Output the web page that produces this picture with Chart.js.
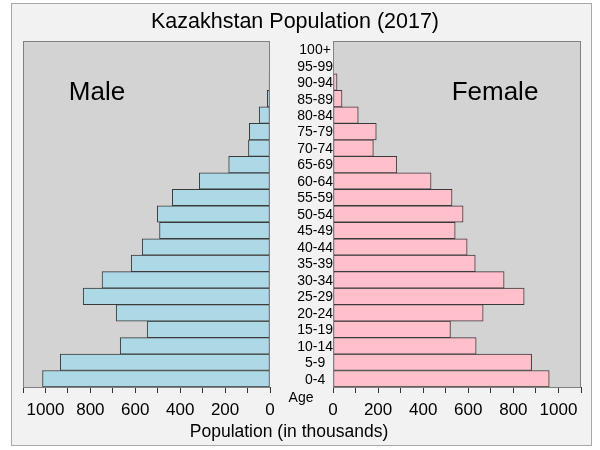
<!DOCTYPE html>
<html>
<head>
<meta charset="utf-8">
<script src="https://cdn.jsdelivr.net/npm/chart.js@4"></script>
<style>
  html, body { margin:0; padding:0; background:#ffffff; }
  #wrap { position:relative; width:600px; height:450px; overflow:hidden; font-family:"Liberation Sans", Arial, sans-serif; }
  #frame { position:absolute; left:11px; top:3px; width:581px; height:443px; background:#f2f2f2; border:1px solid #a8a8a8; box-sizing:border-box; }
  .txt { position:absolute; color:#000; white-space:nowrap; transform:translate(-50%,-50%); line-height:1; }
  canvas { position:absolute; }
</style>
</head>
<body>
<div id="wrap">
  <div id="frame"></div>
  <div id="cl" style="position:absolute;left:0;top:30px;width:280px;height:390px;"><canvas id="left"></canvas></div>
  <div id="cr" style="position:absolute;left:270px;top:30px;width:330px;height:390px;"><canvas id="right"></canvas></div>
  <div class="txt" style="left:295px;top:22px;font-size:21.5px;">Kazakhstan Population (2017)</div>
  <div class="txt" style="left:97px;top:91px;font-size:26px;">Male</div>
  <div class="txt" style="left:495px;top:91px;font-size:26px;">Female</div>
  <div class="txt" style="left:301px;top:397px;font-size:14px;">Age</div>
  <div class="txt" style="left:289px;top:432px;font-size:17.5px;">Population (in thousands)</div>
</div>
<script>
const ageGroups = ['0-4','5-9','10-14','15-19','20-24','25-29','30-34','35-39','40-44','45-49','50-54','55-59','60-64','65-69','70-74','75-79','80-84','85-89','90-94','95-99','100+'];
const maleValues = [1013, 934, 667, 547, 685, 832, 748, 618, 569, 492, 502, 435, 315, 184, 96, 92, 48, 12, 4, 1, 0];
const femaleValues = [959, 881, 635, 521, 666, 848, 759, 631, 595, 542, 577, 528, 435, 283, 179, 192, 112, 40, 18, 3, 0];
const xMax = 1100;
const xStep = 100;
const xLabelStep = 200;

const plotFrame = {
  id: 'plotFrame',
  beforeDraw(chart) {
    const {ctx, chartArea: a} = chart;
    ctx.save();
    ctx.fillStyle = '#d3d3d3';
    ctx.fillRect(a.left, a.top, a.right - a.left, a.bottom - a.top);
    ctx.restore();
  },
  afterDraw(chart) {
    const {ctx, chartArea: a} = chart;
    ctx.save();
    ctx.strokeStyle = '#808080';
    ctx.lineWidth = 1;
    ctx.strokeRect(Math.round(a.left) + 0.5, Math.round(a.top) + 0.5, Math.round(a.right - a.left) - 1, Math.round(a.bottom - a.top));
    ctx.restore();
  }
};

function xScale(reverse) {
  return {
    type: 'linear', min: 0, max: xMax, reverse: reverse,
    border: { display: false },
    grid: { drawOnChartArea: false, drawTicks: true, tickLength: 6, color: '#333333' },
    ticks: {
      stepSize: xStep, autoSkip: false, maxRotation: 0, padding: 7,
      color: '#000', font: { family: 'Liberation Sans', size: 17 },
      callback: v => (v % xLabelStep === 0 && v <= 1000) ? String(v) : ''
    },
    afterFit: s => { s.height = 33; s.paddingLeft = 0; s.paddingRight = 0; }
  };
}

function barDataset(label, data, color) {
  return {
    label, data,
    backgroundColor: color,
    borderColor: '#3a3a3a',
    borderWidth: 1,
    borderSkipped: false,
    barPercentage: 1.0,
    categoryPercentage: 1.0
  };
}

Chart.defaults.font.family = 'Liberation Sans';
Chart.defaults.animation = false;

new Chart(document.getElementById('left'), {
  type: 'bar',
  data: { labels: ageGroups, datasets: [barDataset('Male', maleValues, '#add8e6')] },
  options: {
    indexAxis: 'y', responsive: true, maintainAspectRatio: false, animation: false,
    layout: { padding: { left: 23, right: 10, top: 11, bottom: 0 } },
    plugins: { legend: { display: false }, tooltip: { enabled: false }, title: { display: false } },
    scales: {
      x: xScale(true),
      y: { reverse: true, display: false, grid: { display: false } }
    }
  },
  plugins: [plotFrame]
});

new Chart(document.getElementById('right'), {
  type: 'bar',
  data: { labels: ageGroups, datasets: [barDataset('Female', femaleValues, '#ffc0cb')] },
  options: {
    indexAxis: 'y', responsive: true, maintainAspectRatio: false, animation: false,
    layout: { padding: { left: 0, right: 19, top: 11, bottom: 0 } },
    plugins: { legend: { display: false }, tooltip: { enabled: false }, title: { display: false } },
    scales: {
      x: xScale(false),
      y: {
        reverse: true, position: 'left',
        border: { display: false },
        grid: { display: false, drawTicks: false },
        ticks: { crossAlign: 'center', padding: 0, labelOffset: 1, color: '#000', font: { family: 'Liberation Sans', size: 14 }, autoSkip: false },
        afterFit: s => { s.width = 63; }
      }
    }
  },
  plugins: [plotFrame]
});
</script>
</body>
</html>
